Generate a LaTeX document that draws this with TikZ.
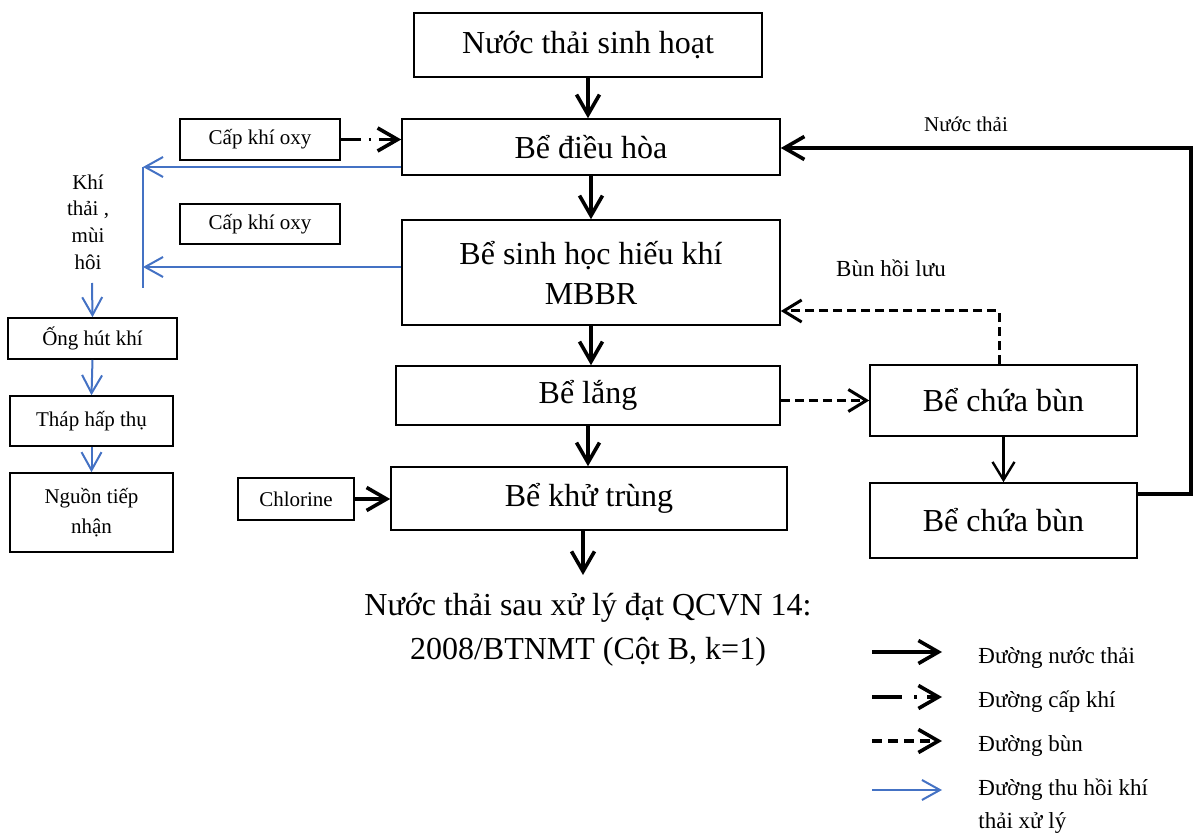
\documentclass[tikz,border=0pt]{standalone}
\usepackage{fontspec}
\setmainfont{Liberation Serif}
\usetikzlibrary{arrows.meta}
\definecolor{gasblue}{HTML}{4472C4}

\begin{document}
\begin{tikzpicture}[x=0.5pt,y=-0.5pt]
\useasboundingbox (0,0) rectangle (1195,834);

\tikzset{tank/.style = {shape=rectangle,draw,line width=0.8pt,inner sep=0pt,align=center,font=\fontsize{16}{20}\selectfont}}
\tikzset{small/.style = {shape=rectangle,draw,line width=0.8pt,inner sep=0pt,align=center,font=\fontsize{10.5}{15}\selectfont}}
\tikzset{note/.style = {inner sep=0pt,align=center,font=\fontsize{10.5}{13.3}\selectfont}}
\tikzset{water/.style = {-{Straight Barb[length=10pt,width=11.5pt]}, line width=1.8pt}}
\tikzset{thin/.style = {-{Straight Barb[length=9pt,width=11pt]}, line width=1.2pt}}
\tikzset{air/.style = {water, dash pattern=on 10pt off 4pt on 1pt off 4pt}}
\tikzset{sludge/.style = {thin, line width=1.5pt, dash pattern=on 4.5pt off 2.5pt}}
\tikzset{gas/.style = {-{Straight Barb[length=9pt,width=10pt]}, gasblue, line width=1pt}}

% vertices
\node[tank, minimum width=174pt, minimum height=32pt] (src) at (588,45) {Nước thải sinh hoạt};
\node[tank, minimum width=189pt, minimum height=28pt] (dh) at (591,147) {Bể điều hòa};
\node[tank, minimum width=189pt, minimum height=52.5pt] (mb) at (591,272.5) {Bể sinh học hiếu khí\\MBBR};
\node[tank, minimum width=192pt, minimum height=29.5pt] (lang) at (588,395.5) {Bể lắng};
\node[tank, minimum width=198pt, minimum height=31.5pt] (kt) at (589,498.5) {Bể khử trùng};
\node[tank, minimum width=133.5pt, minimum height=35.5pt] (cb1) at (1003.5,400.5) {Bể chứa bùn};
\node[tank, minimum width=133.5pt, minimum height=37.5pt] (cb2) at (1003.5,520.5) {Bể chứa bùn};

\node[small, minimum width=80pt, minimum height=20.5pt] (ck1) at (260,139.5) {Cấp khí oxy};
\node[small, minimum width=80pt, minimum height=20pt] (ck2) at (260,224) {Cấp khí oxy};
\node[small, minimum width=58pt, minimum height=21pt] (cl) at (296,499) {Chlorine};

\node[note] (khi) at (88,222) {Khí\\thải ,\\mùi\\hôi};
\node[small, minimum width=84.5pt, minimum height=20.5pt] (ong) at (92.5,338.5) {Ống hút khí};
\node[small, minimum width=81.5pt, minimum height=25pt] (thap) at (91.5,421) {Tháp hấp thụ};
\node[small, minimum width=81.5pt, minimum height=39.5pt] (ngu) at (91.5,512.5) {Nguồn tiếp\\nhận};

\node[note] (nt) at (966,124) {Nước thải};
\node[note, font=\fontsize{11.5}{14}\selectfont] (bhl) at (891,268) {Bùn hồi lưu};
\node[note, font=\fontsize{16}{22}\selectfont] (ra) at (588,630) {Nước thải sau xử lý đạt QCVN 14:\\2008/BTNMT (Cột B, k=1)};

\coordinate (g1) at (143,167);
\coordinate (g2) at (143,267);
\coordinate (g3) at (143,288);
\coordinate (k1) at (92,283);
\coordinate (r1) at (1191,494);
\coordinate (r2) at (1191,148);
\coordinate (b1) at (999,311);
\coordinate (o1) at (583,575);

%edges
\draw[water] (src.south) -- (src.south |- dh.north);
\draw[water] (dh.south) -- (dh.south |- mb.north);
\draw[water] (mb.south) -- (mb.south |- lang.north);
\draw[water] (lang.south) -- (lang.south |- kt.north);
\draw[water] (kt.south -| o1) -- (o1);
\draw[water] (cl.east) -- (kt.west |- cl.east);
\draw[air] (ck1.east) -- (dh.west |- ck1.east);
\draw[water] (cb2.east |- r1) -- (r1) -- (r2) -- (dh.east |- r2);

\draw[sludge] (lang.east |- cb1.west) -- (cb1.west);
\draw[sludge] (cb1.north -| b1) -- (b1) -- (mb.east |- b1);
\draw[thin] (cb1.south) -- (cb2.north);

\draw[gas, -] (g1) -- (g3);
\draw[gas] (dh.west |- g1) -- (g1);
\draw[gas] (mb.west |- g2) -- (g2);
\draw[gas] (k1) -- (ong.north);
\draw[gas] (ong.south) -- (thap.north);
\draw[gas] (thap.south) -- (ngu.north);

% legend
\tikzset{key/.style = {inner sep=0pt,anchor=west,align=left,font=\fontsize{11.5}{16.5}\selectfont}}
\coordinate (la1) at (872,652); \coordinate (lb1) at (942,652);
\coordinate (la2) at (872,697); \coordinate (lb2) at (942,697);
\coordinate (la3) at (872,741); \coordinate (lb3) at (942,741);
\coordinate (la4) at (872,790); \coordinate (lb4) at (942,790);
\draw[water] (la1) -- (lb1);
\draw[water, dash pattern=on 15pt off 6pt on 1.5pt off 5pt] (la2) -- (lb2);
\draw[water, dash pattern=on 5pt off 3pt] (la3) -- (lb3);
\draw[gas] (la4) -- (lb4);
\node[key] (t1) at (978,658) {Đường nước thải};
\node[key] (t2) at (978,702) {Đường cấp khí};
\node[key] (t3) at (978,746) {Đường bùn};
\node[key] (t4) at (978,806) {Đường thu hồi khí\\thải xử lý};

\end{tikzpicture}
\end{document}
